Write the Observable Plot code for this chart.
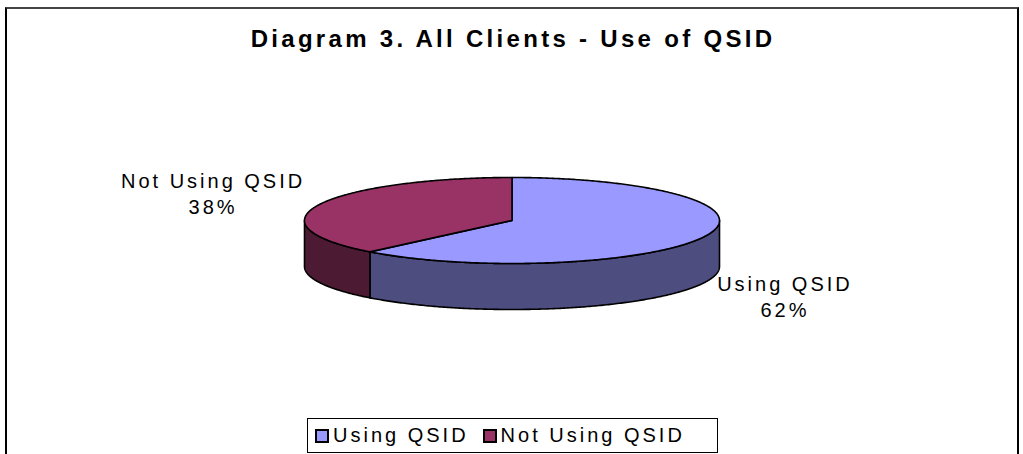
<!DOCTYPE html>
<html>
<head>
<meta charset="utf-8">
<script src="https://cdn.jsdelivr.net/npm/d3@7"></script>
<script src="https://cdn.jsdelivr.net/npm/@observablehq/plot@0.6"></script>
<style>
  html, body { margin: 0; padding: 0; background: #fff; }
  #wrap { position: relative; width: 1023px; height: 454px; overflow: hidden; font-family: "Liberation Sans", Arial, sans-serif; }
  #frame { position: absolute; left: 5px; top: 7px; width: 1010px; height: 520px; border-left: 2px solid #000; border-right: 2px solid #000; border-top: 2px solid #444; }
  #title { position: relative; height: 60px; box-sizing: border-box; padding-top: 26px; text-align: center; font-size: 24px; line-height: 26px; font-weight: bold; letter-spacing: 3.3px; padding-left: 3px; color: #000; }
  #chart { position: relative; height: 350px; }
  #chart svg { display: block; }
  .lbl text { letter-spacing: 3px; }
  #legend { position: absolute; left: 307px; top: 418px; width: 411px; height: 35px; box-sizing: border-box; border: 1px solid #000; background: #fff; display: flex; align-items: center; padding-left: 7px; font-size: 20px; letter-spacing: 3px; color: #000; }
  .sw { width: 14px; height: 14px; box-sizing: border-box; border: 2px solid #000; display: inline-block; }
  .item { display: flex; align-items: center; }
  .item span.t { margin-left: 4px; }
</style>
</head>
<body>
<div id="wrap">
  <div id="frame"></div>
  <div id="title"></div>
  <div id="chart"></div>
  <div id="legend"></div>
</div>
<script>
const titleText = "Diagram 3. All Clients - Use of QSID";
const categories = ["Using QSID", "Not Using QSID"];
const shares = [62, 38];
const topColors = ["#9999FF", "#993366"];
const sideColors = ["#4D4D80", "#4D1A33"];

document.getElementById("title").textContent = titleText;

const DEPTH = 1.07; // pie thickness in y-units
const total = d3.sum(shares);
let acc = 0;
const slices = categories.map((name, i) => {
  const a0 = acc / total * 2 * Math.PI;
  acc += shares[i];
  const a1 = acc / total * 2 * Math.PI;
  const mid = (a0 + a1) / 2;
  return {name, value: shares[i], pct: Math.round(shares[i] / total * 100), a0, a1, lx: Math.sin(mid), ly: Math.cos(mid), i};
});

function arcPts(t0, t1, off) {
  const n = Math.max(2, Math.ceil(Math.abs(t1 - t0) / 0.01));
  const pts = [];
  for (let k = 0; k <= n; k++) {
    const t = t0 + (t1 - t0) * k / n;
    pts.push({x: Math.sin(t), y: Math.cos(t) - off});
  }
  return pts;
}

const marks = [];
// front sides
slices.forEach(s => {
  const s0 = Math.max(s.a0, Math.PI / 2), s1 = Math.min(s.a1, 3 * Math.PI / 2);
  if (s0 < s1) {
    const pts = [...arcPts(s0, s1, 0), ...arcPts(s1, s0, DEPTH)];
    pts.push(pts[0]);
    marks.push(Plot.line(pts, {x: "x", y: "y", fill: sideColors[s.i], stroke: "#000", strokeWidth: 1.6, strokeLinejoin: "round", curve: "linear"}));
  }
});
// top faces
slices.forEach(s => {
  const pts = [{x: 0, y: 0}, ...arcPts(s.a0, s.a1, 0), {x: 0, y: 0}];
  marks.push(Plot.line(pts, {x: "x", y: "y", fill: topColors[s.i], stroke: "#000", strokeWidth: 1.6, strokeLinejoin: "round", curve: "linear"}));
});
// labels
const labelText = d => `${d.name}\n${d.pct}%`;
marks.push(Plot.text(slices.filter(d => d.i === 1), {x: "lx", y: "ly", text: labelText, dx: -106, dy: -12, fontSize: 20, lineHeight: 1.32, fill: "#000", className: "lbl"}));
marks.push(Plot.text(slices.filter(d => d.i === 0), {x: "lx", y: "ly", text: labelText, dx: 80, dy: 59, fontSize: 20, lineHeight: 1.32, fill: "#000", className: "lbl"}));

const chart = Plot.plot({
  width: 1023,
  height: 350,
  margin: 0,
  style: {fontFamily: "'Liberation Sans', Arial, sans-serif", background: "transparent", overflow: "visible"},
  x: {domain: [-1, 1], range: [304, 719], axis: null},
  y: {domain: [-1, 1], range: [203, 117], axis: null},
  marks
});
document.getElementById("chart").appendChild(chart);

const legend = document.getElementById("legend");
categories.forEach((c, i) => {
  const item = document.createElement("div");
  item.className = "item";
  if (i > 0) item.style.marginLeft = "14px";
  const sw = document.createElement("span");
  sw.className = "sw";
  sw.style.background = topColors[i];
  const t = document.createElement("span");
  t.className = "t";
  t.textContent = c;
  item.appendChild(sw);
  item.appendChild(t);
  legend.appendChild(item);
});
</script>
</body>
</html>
